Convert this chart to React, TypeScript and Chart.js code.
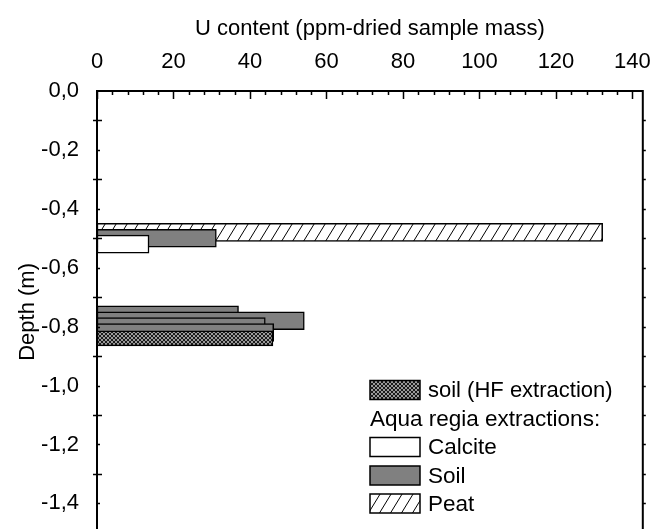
import React, { useEffect, useRef } from 'react';
import { Chart, registerables } from 'chart.js';

Chart.register(...registerables);

// ---- data ----
const depthMin = -1.5;
const depthMax = 0;
const uMax = 142.7;

const hfDepths = [-0.84];
const hfValues = [46.0];
const calciteDepths = [-0.52];
const calciteValues = [13.6];
const soilDepths = [-0.5, -0.76, -0.78, -0.8, -0.82];
const soilValues = [31.2, 37.0, 54.2, 44.0, 46.2];
const peatDepths = [-0.48];
const peatValues = [132.2];

const uTicks = [0, 20, 40, 60, 80, 100, 120, 140];
const depthTicks = [0, -0.1, -0.2, -0.3, -0.4, -0.5, -0.6, -0.7, -0.8, -0.9, -1.0, -1.1, -1.2, -1.3, -1.4, -1.5];

const xTitle = 'U content (ppm-dried sample mass)';
const yTitle = 'Depth (m)';
const legendHF = 'soil (HF extraction)';
const legendHeader = 'Aqua regia extractions:';
const legendCalcite = 'Calcite';
const legendSoil = 'Soil';
const legendPeat = 'Peat';

const FONT = '"Liberation Sans", Arial, sans-serif';

function makeHatch(): CanvasPattern {
  const w = 11, h = 18;
  const c = document.createElement('canvas');
  c.width = w; c.height = h;
  const g = c.getContext('2d')!;
  g.fillStyle = '#ffffff';
  g.fillRect(0, 0, w, h);
  g.strokeStyle = '#000000';
  g.lineWidth = 1;
  for (const dx of [-w, 0, w]) {
    g.beginPath();
    g.moveTo(dx, h);
    g.lineTo(dx + w, 0);
    g.stroke();
  }
  return g.createPattern(c, 'repeat')!;
}

function makeCross(): CanvasPattern {
  const c = document.createElement('canvas');
  c.width = 4; c.height = 4;
  const g = c.getContext('2d')!;
  g.fillStyle = '#9a9a9a';
  g.fillRect(0, 0, 4, 4);
  g.fillStyle = '#1a1a1a';
  for (let i = 0; i < 4; i++) {
    g.fillRect(i, i, 1, 1);
    g.fillRect(3 - i, i, 1, 1);
  }
  return g.createPattern(c, 'repeat')!;
}

const toPoints = (d: number[], v: number[]) => d.map((y, i) => ({ x: v[i], y }));

export default function App() {
  const ref = useRef<HTMLCanvasElement | null>(null);

  useEffect(() => {
    if (!ref.current) return;
    const hatch = makeHatch();
    const cross = makeCross();
    const soilGrey = '#808080';

    const framePlugin = {
      id: 'frame',
      afterDatasetsDraw(chart: any) {
        const { ctx, chartArea: a, scales } = chart;
        const xs = scales.x;
        const ys = scales.y;
        ctx.save();
        ctx.strokeStyle = '#000';
        ctx.lineWidth = 2;
        ctx.beginPath();
        ctx.moveTo(a.left, a.bottom);
        ctx.lineTo(a.left, a.top);
        ctx.lineTo(a.right, a.top);
        ctx.lineTo(a.right, a.bottom);
        ctx.lineTo(a.left, a.bottom);
        ctx.stroke();

        ctx.lineWidth = 1.5;
        ctx.beginPath();
        for (let v = 0; v <= 140; v += 4) {
          const px = Math.round(xs.getPixelForValue(v)) + 0.5;
          const len = v % 20 === 0 ? 8 : 4;
          ctx.moveTo(px, a.top);
          ctx.lineTo(px, a.top + len);
        }
        for (let k = 1; k <= 15; k++) {
          const py = Math.round(ys.getPixelForValue(-k / 10)) + 0.5;
          if (k % 2 === 1) {
            ctx.moveTo(a.left - 4, py);
            ctx.lineTo(a.left + 5, py);
          } else {
            ctx.moveTo(a.left, py);
            ctx.lineTo(a.left + 3, py);
          }
          ctx.moveTo(a.right, py);
          ctx.lineTo(a.right + 3, py);
        }
        ctx.stroke();

        // legend
        const boxX = 370, boxW = 50, boxH = 19, textX = 428;
        const rows = [390, 418.5, 447, 475.5, 503.5];
        ctx.textBaseline = 'middle';
        ctx.textAlign = 'left';
        const drawBox = (cy: number, fill: any) => {
          ctx.fillStyle = fill;
          ctx.fillRect(boxX, cy - boxH / 2, boxW, boxH);
          ctx.strokeStyle = '#000';
          ctx.lineWidth = 1.5;
          ctx.strokeRect(boxX, cy - boxH / 2, boxW, boxH);
        };
        drawBox(rows[0], cross);
        drawBox(rows[2], '#ffffff');
        drawBox(rows[3], soilGrey);
        drawBox(rows[4], hatch);
        ctx.fillStyle = '#000';
        ctx.font = `22px ${FONT}`;
        ctx.fillText(legendHF, textX, rows[0] + 1);
        ctx.font = `22.5px ${FONT}`;
        ctx.fillText(legendHeader, boxX, rows[1] + 1);
        ctx.fillText(legendCalcite, textX, rows[2] + 1);
        ctx.fillText(legendSoil, textX, rows[3] + 1);
        ctx.fillText(legendPeat, textX, rows[4] + 1);
        ctx.restore();
      },
    };

    const common = {
      borderColor: '#000',
      borderWidth: 1.5,
      borderSkipped: false,
      grouped: false,
      barThickness: 18,
    };

    const chart = new Chart(ref.current, {
      type: 'bar',
      data: {
        datasets: [
          { ...common, label: legendHF, data: toPoints(hfDepths, hfValues), backgroundColor: cross, barThickness: 15 },
          { ...common, label: legendCalcite, data: toPoints(calciteDepths, calciteValues), backgroundColor: '#ffffff' },
          { ...common, label: legendSoil, data: toPoints(soilDepths, soilValues), backgroundColor: soilGrey },
          { ...common, label: legendPeat, data: toPoints(peatDepths, peatValues), backgroundColor: hatch },
        ] as any,
      },
      options: {
        indexAxis: 'y',
        animation: false,
        responsive: false,
        events: [],
        layout: { padding: { left: 0, top: 0, right: 9, bottom: 11.5 } },
        plugins: { legend: { display: false }, tooltip: { enabled: false } },
        scales: {
          x: {
            type: 'linear',
            position: 'top',
            min: 0,
            max: uMax,
            offset: false,
            grid: { display: false },
            border: { display: false },
            afterBuildTicks: (s: any) => { s.ticks = uTicks.map((v) => ({ value: v })); },
            ticks: {
              autoSkip: false,
              maxRotation: 0,
              padding: 8,
              color: '#000',
              font: { family: FONT, size: 22 },
              callback: (v: any) => String(v),
            },
            title: {
              display: true,
              text: xTitle,
              color: '#000',
              font: { family: FONT, size: 22 },
              padding: { top: 15.5, bottom: 0 },
            },
            afterFit: (s: any) => { s.height = 91; },
          },
          y: {
            type: 'linear',
            position: 'left',
            min: depthMin,
            max: depthMax,
            offset: false,
            grid: { display: false },
            border: { display: false },
            afterBuildTicks: (s: any) => { s.ticks = depthTicks.map((v) => ({ value: v })); },
            ticks: {
              autoSkip: false,
              padding: 10,
              color: '#000',
              font: { family: FONT, size: 22 },
              callback: (v: any) => {
                const t = Math.round(Number(v) * 10);
                if (t % 2 !== 0) return '';
                const s = (Math.abs(t) / 10).toFixed(1).replace('.', ',');
                return t < 0 ? '-' + s : s;
              },
            },
            title: {
              display: true,
              text: yTitle,
              color: '#000',
              font: { family: FONT, size: 22 },
              padding: { top: 15, bottom: 0 },
            },
            afterFit: (s: any) => { s.width = 97; },
          },
        },
      } as any,
      plugins: [framePlugin],
    });
    return () => chart.destroy();
  }, []);

  return (
    <div style={{ position: 'fixed', left: 0, top: 0, width: 652, height: 529, overflow: 'hidden', background: '#fff' }}>
      <canvas ref={ref} width={659} height={556} style={{ display: 'block', width: 659, height: 556 }} />
    </div>
  );
}
